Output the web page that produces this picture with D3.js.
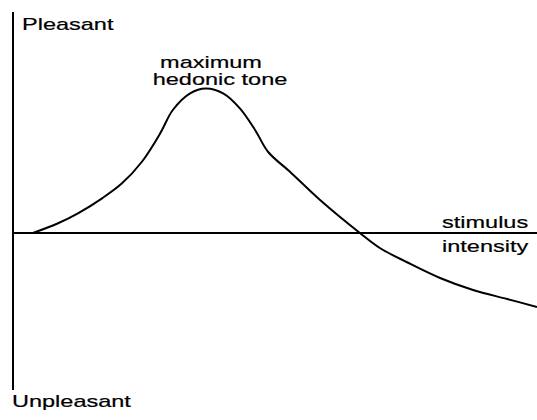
<!DOCTYPE html>
<html>
<head>
<meta charset="utf-8">
<script src="https://cdn.jsdelivr.net/npm/d3@7"></script>
<style>
  body { margin: 0; background: #fff; }
  text { font-family: "Liberation Sans", Arial, sans-serif; fill: #000; stroke: #000; stroke-width: 0.2px; }
</style>
</head>
<body>
<svg id="chart"></svg>
<script>
// Stimulus intensity (0-100) and hedonic tone (-100 unpleasant .. 100 pleasant).
const intensity = [3.8, 8.6, 12.4, 17.0, 20.8, 24.6, 28.1, 30.5, 33.8, 36.8, 40.1, 43.3, 46.2, 48.7, 52.9, 58.6, 66.2, 70.0, 75.2, 81.5, 87.8, 94.3, 100];
const hedonic   = [0, 6.5, 13.1, 23.1, 33.1, 47.5, 66.5, 82, 93.1, 96.3, 93.1, 83.1, 68.7, 54, 40.7, 22, 0, -10, -19.5, -30, -38, -44, -49.3];

const yTopLabel = "Pleasant";
const yBottomLabel = "Unpleasant";
const peakLabel = ["maximum", "hedonic tone"];
const xLabel = ["stimulus", "intensity"];

const width = 537, height = 420;
const svg = d3.select("#chart").attr("width", width).attr("height", height);

// Scales: intensity along x, hedonic tone along y (0 sits on the horizontal axis).
const x = d3.scaleLinear().domain([0, 100]).range([13, 537]);
const y = d3.scaleLinear().domain([-100, 100]).range([383, 83]);

// Axes drawn as plain lines, like the original sketch.
svg.append("line")
    .attr("x1", x(0)).attr("x2", x(0))
    .attr("y1", 12).attr("y2", 390)
    .attr("stroke", "#000").attr("stroke-width", 2);
svg.append("line")
    .attr("x1", x(0)).attr("x2", x(100))
    .attr("y1", y(0)).attr("y2", y(0))
    .attr("stroke", "#000").attr("stroke-width", 2);

// The hedonic curve.
const points = intensity.map((v, i) => [v, hedonic[i]]);
const line = d3.line()
    .x(d => x(d[0]))
    .y(d => y(d[1]))
    .curve(d3.curveCatmullRom.alpha(0.5));
svg.append("path")
    .datum(points)
    .attr("d", line)
    .attr("fill", "none")
    .attr("stroke", "#000")
    .attr("stroke-width", 2);

// Labels are wide in the picture, so stretch them horizontally.
const sx = 1.4;
function label(txt, tx, ty, anchor) {
    svg.append("text")
        .attr("transform", `translate(${tx},${ty}) scale(${sx},1)`)
        .attr("text-anchor", anchor || "start")
        .style("font-size", "16.8px")
        .text(txt);
}

label(yTopLabel, 22, 30);
label(yBottomLabel, 12, 407);
label(peakLabel[0], 211, 68, "middle");
label(peakLabel[1], 220, 85, "middle");
label(xLabel[0], 442, 228);
label(xLabel[1], 442, 252);
</script>
</body>
</html>
